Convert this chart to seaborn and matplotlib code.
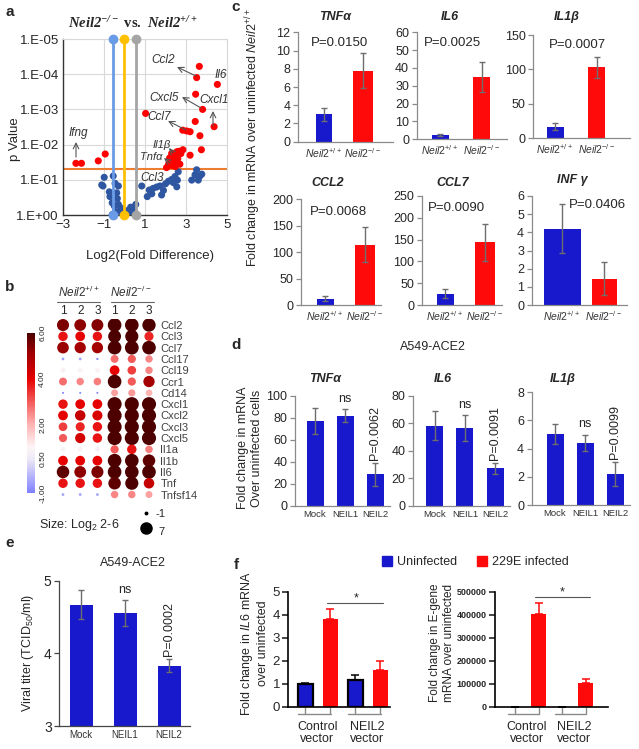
import numpy as np
import pandas as pd
import seaborn as sns
import matplotlib.pyplot as plt
from matplotlib.colors import LinearSegmentedColormap, Normalize
from matplotlib.cm import ScalarMappable
from matplotlib.patches import Patch
from matplotlib.lines import Line2D

# ---------------- data ----------------
# a: volcano (log2 fold difference, p value)
sig_fc = [3.65, 3.52, 4.53, 3.47, 3.81, 1.03, 3.45, 4.37, 2.84, 3.03, 3.20, 3.68,
          3.75, 3.20, 2.85, 2.65, 2.55, 2.75, 2.45, 2.30, 2.60, 2.40, 2.20, 2.55,
          2.15, 2.30, 2.05, 2.70, 2.48, -0.94, -1.28, -2.37, -2.10]
sig_p = [6.0e-5, 1.25e-4, 1.95e-4, 3.7e-4, 1.0e-3, 1.3e-3, 2.2e-3, 3.1e-3, 3.9e-3, 4.1e-3, 4.3e-3, 5.6e-3,
         1.4e-2, 2.0e-2, 1.4e-2, 1.55e-2, 1.6e-2, 1.8e-2, 2.0e-2, 1.8e-2, 2.5e-2, 2.8e-2, 2.4e-2, 3.2e-2,
         3.6e-2, 3.9e-2, 4.5e-2, 3.6e-2, 4.2e-2, 1.85e-2, 2.9e-2, 3.4e-2, 3.4e-2]
ns_fc = [-0.99, -0.55, -1.11, -1.05, -0.46, -0.30, -0.74, -0.38, -0.71, -0.35,
         -0.60, -0.50, -0.30, -0.20, -0.10, 0.00, 0.15, 0.30, 0.45, 0.55,
         0.35, 0.10, -0.25, -0.45, -0.55, -0.35, 0.25, 0.60, -0.60, 0.05,
         0.84, 1.21, 1.40, 1.11, 1.33, 1.57, 1.73, 1.81, 2.14, 2.30,
         2.46, 2.62, 2.58, 2.55, 3.28, 3.44, 3.52, 3.68, 3.77, 3.60,
         2.38, 2.00, 1.90]
ns_p = [0.085, 0.078, 0.14, 0.15, 0.126, 0.15, 0.22, 0.234, 0.30, 0.34,
        0.45, 0.55, 0.50, 0.62, 0.70, 0.78, 0.75, 0.60, 0.62, 0.50,
        0.85, 0.90, 0.85, 0.80, 0.95, 0.92, 0.95, 0.98, 0.98, 0.98,
        0.15, 0.195, 0.175, 0.30, 0.25, 0.16, 0.15, 0.27, 0.11, 0.098,
        0.081, 0.059, 0.102, 0.158, 0.102, 0.072, 0.052, 0.078, 0.069, 0.102,
        0.12, 0.13, 0.20]
cut_fc = [-0.58, 0.0, 0.58]
p_cut = 0.05

# b: dot plot, log2 values per replicate
genes = ['Ccl2', 'Ccl3', 'Ccl7', 'Ccl17', 'Ccl19', 'Ccr1', 'Cd14', 'Cxcl1', 'Cxcl2',
         'Cxcl3', 'Cxcl5', 'Il1a', 'Il1b', 'Il6', 'Tnf', 'Tnfsf14']
wt_vals = [[5.5, 5.3, 5.4], [3.8, 4.0, 3.8], [5.2, 5.0, 5.0], [-0.5, -0.5, -0.8],
           [0.8, 0.9, 0.9], [2.8, 2.5, 2.6], [-1.0, -1.0, -1.0], [3.8, 4.0, 4.0],
           [4.0, 4.5, 4.2], [3.3, 3.6, 3.8], [3.0, 4.3, 3.8], [0.9, 0.9, 0.8],
           [4.0, 4.0, 4.0], [5.8, 5.3, 5.5], [3.8, 3.8, 3.8], [-0.5, -0.5, -0.5]]
ko_vals = [[6.5, 6.5, 6.3], [6.0, 6.2, 3.6], [6.5, 6.6, 6.5], [2.8, 3.0, 2.5],
           [4.0, 3.3, 2.5], [6.5, 3.0, 5.0], [2.2, 2.3, 2.0], [6.8, 6.8, 6.8],
           [6.8, 6.8, 6.8], [6.8, 6.8, 6.8], [6.8, 6.8, 6.8], [3.0, 3.8, 2.6],
           [6.5, 6.5, 5.8], [6.5, 6.5, 6.5], [5.8, 6.2, 4.5], [2.5, 2.5, 2.2]]

# c: mouse qPCR
c_genes = ['TNFα', 'IL6', 'IL1β', 'CCL2', 'CCL7', 'INF γ']
c_wt = [3.0, 2.2, 17, 12, 26, 4.2]
c_wt_err = [0.75, 0.5, 4.5, 5, 10, 1.35]
c_ko = [7.8, 35, 103, 114, 144, 1.45]
c_ko_err = [1.95, 8.5, 15, 33, 42, 0.9]
c_pvals = ['P=0.0150', 'P=0.0025', 'P=0.0007', 'P=0.0068', 'P=0.0090', 'P=0.0406']
c_ymax = [12, 60, 150, 200, 250, 6]
c_ystep = [2, 10, 50, 50, 50, 1]
genotypes = [r'$\mathit{Neil2}^{+/+}$', r'$\mathit{Neil2}^{-/-}$']

# d: A549-ACE2 cytokines
d_groups = ['Mock', 'NEIL1', 'NEIL2']
d_genes = ['TNFα', 'IL6', 'IL1β']
d_vals = [[77, 82, 28.5], [58, 56.5, 27], [5.05, 4.4, 2.2]]
d_errs = [[12, 6, 10.5], [10.5, 9.5, 4], [0.7, 0.6, 0.85]]
d_pvals = ['P=0.0062', 'P=0.0091', 'P=0.0099']
d_ymax = [100, 80, 8]
d_ystep = [20, 20, 2]

# e: viral titer
e_vals = [4.67, 4.55, 3.83]
e_errs = [0.2, 0.18, 0.09]

# f: 229E infection
f_groups = ['Control\nvector', 'NEIL2\nvector']
f_conds = ['Uninfected', '229E infected']
f_il6 = {'Uninfected': [0.98, 1.18], '229E infected': [3.83, 1.58]}
f_il6_err = {'Uninfected': [0.03, 0.22], '229E infected': [0.42, 0.40]}
f_egene = {'Uninfected': [1, 1], '229E infected': [405000, 105000]}
f_egene_err = {'Uninfected': [0, 0], '229E infected': [45000, 15000]}

# ---------------- style ----------------
sns.set_style('ticks')
plt.rcParams['font.family'] = ['Liberation Sans', 'DejaVu Sans']
plt.rcParams['mathtext.fontset'] = 'custom'
plt.rcParams['mathtext.rm'] = 'Liberation Sans'
plt.rcParams['mathtext.it'] = 'Liberation Sans:italic'
plt.rcParams['mathtext.bf'] = 'Liberation Sans:bold'
plt.rcParams['mathtext.bfit'] = 'Liberation Serif:bold:italic'
plt.rcParams['mathtext.sf'] = 'Liberation Serif:bold'

BLUE = '#1818cc'
RED = '#ff0a0a'
ERR = '#6e6e6e'
AXG = '#8a8a8a'

W, H = 639, 749
fig = plt.figure(figsize=(W / 100, H / 100), dpi=100)


def box(l, t, r, b):
    return fig.add_axes([l / W, 1 - b / H, (r - l) / W, (b - t) / H])


def ftext(x, y, s, **kw):
    kw.setdefault('ha', 'center')
    kw.setdefault('va', 'center')
    fig.text(x / W, 1 - y / H, s, **kw)


def excel_axes(ax, ymax, step, fs=9, ymin=0):
    ax.set_ylim(ymin, ymax)
    ax.set_yticks(np.arange(ymin, ymax + step / 2, step))
    sns.despine(ax=ax)
    for s in ['left', 'bottom']:
        ax.spines[s].set_color(AXG)
        ax.spines[s].set_linewidth(0.9)
    ax.tick_params(axis='y', direction='out', length=3.5, width=0.9, color=AXG,
                   labelsize=fs, pad=2)
    ax.tick_params(axis='x', length=0, pad=3)
    ax.set_xlabel('')
    ax.set_ylabel('')


def bars(ax, cats, vals, errs, colors, centers_px, widths_px, l, r):
    df = pd.DataFrame({'cat': cats, 'val': vals})
    sns.barplot(data=df, x='cat', y='val', hue='cat', palette=dict(zip(cats, colors)),
                saturation=1, legend=False, errorbar=None, ax=ax)
    unit = (centers_px[-1] - centers_px[0]) / (len(cats) - 1)
    for i, p in enumerate(ax.patches):
        w = widths_px[i] / unit
        p.set_x(i - w / 2)
        p.set_width(w)
        p.set_edgecolor('none')
    ax.errorbar(np.arange(len(cats)), vals, yerr=errs, fmt='none', ecolor=ERR,
                elinewidth=1.0, capsize=2.5, capthick=1.0, zorder=5)
    ax.set_xlim(-(centers_px[0] - l) / unit, len(cats) - 1 + (r - centers_px[-1]) / unit)


# ---------------- a: volcano ----------------
ftext(10, 12, 'a', fontsize=11, fontweight='bold')
axa = box(63, 39, 227, 215)
axa.set_xlim(-3, 5)
axa.set_ylim(0, -5)
axa.set_xticks([-3, -1, 1, 3, 5])
axa.set_yticks([0, -1, -2, -3, -4, -5])
axa.set_yticklabels(['1.E+00', '1.E-01', '1.E-02', '1.E-03', '1.E-04', '1.E-05'])
axa.grid(True, color='#d9d9d9', lw=0.8)
axa.set_axisbelow(True)
for s in ['top', 'right']:
    axa.spines[s].set_color('#d9d9d9')
for s in ['left', 'bottom']:
    axa.spines[s].set_color('#333333')
    axa.spines[s].set_linewidth(1.0)
axa.tick_params(length=0, labelsize=9.5, pad=3)
for x, c in zip(cut_fc, ['#6a9be6', '#ffc000', '#a5a5a5']):
    axa.plot([x, x], [0, -5], color=c, lw=2, marker='o', ms=6, clip_on=False, zorder=4)
axa.axhline(np.log10(p_cut), color='#ed7d31', lw=1.5, zorder=2)
sns.scatterplot(x=ns_fc, y=np.log10(ns_p), color='#2f56a0', s=26, edgecolor='none',
                ax=axa, zorder=3)
sns.scatterplot(x=sig_fc, y=np.log10(sig_p), color='#ff0000', s=26, edgecolor='none',
                ax=axa, zorder=3)
axa.set_xlabel('Log2(Fold Difference)', fontsize=9.5, labelpad=8)
axa.xaxis.set_label_coords(0.53, -0.2)
axa.set_ylabel('p Value', fontsize=9.5)
axa.yaxis.set_label_coords(-0.255, 0.43)
ftext(133, 23, r'$\mathbfit{Neil2}^{\mathbfit{-/-}}\ \mathsf{vs.}\ \mathbfit{Neil2}^{\mathbfit{+/+}}$',
      fontsize=10.5)

labels_a = [('Ccl2', (163, 60), (177, 67), (196, 76)),
            ('Il6', (221, 75), None, None),
            ('Cxcl5', (164, 98), (182, 97), (201, 108)),
            ('Cxcl1', (214, 100), (213, 111), (213, 126)),
            ('Ccl7', (159, 117), (168, 121), (186, 130)),
            ('Ifng', (78, 133), (76, 142), (76, 157)),
            ('Il1β', (162, 145), (169, 148), (173, 153)),
            ('Tnfα', (151, 157), (164, 158), (170, 163)),
            ('Ccl3', (152, 178), None, None)]
for name, tp, head, tail in labels_a:
    ftext(tp[0], tp[1], name, fontsize=8 if name in ('Il1β', 'Tnfα') else 8.5,
          style='italic', color='#333333')
    if head is not None:
        axa.annotate('', xy=(head[0], H - head[1]), xycoords='figure pixels',
                     xytext=(tail[0], H - tail[1]), textcoords='figure pixels',
                     arrowprops=dict(arrowstyle='->', color='#555555', lw=0.8,
                                     shrinkA=0, shrinkB=0))

# ---------------- b: dot plot ----------------
ftext(10, 287, 'b', fontsize=11, fontweight='bold')
cmap = LinearSegmentedColormap.from_list(
    'bwr_dark', [(0.0, '#8080ff'), (1.5 / 7, '#eeeaf6'), (2.0 / 7, '#fdf5f5'),
                 (3.0 / 7, '#ffb3b3'), (5.0 / 7, '#e60000'), (6.2 / 7, '#990000'),
                 (1.0, '#4d0000')])
norm = Normalize(-1, 6)
rows = []
for i, g in enumerate(genes):
    for j, v in enumerate(wt_vals[i] + ko_vals[i]):
        rows.append({'col': j, 'row': i, 'val': v})
dots = pd.DataFrame(rows)
dots['dot'] = ((2 + (dots['val'] + 1) * 1.55) * 0.72) ** 2
smin, smax = dots['dot'].min(), dots['dot'].max()
axb = box(54.4, 319.4, 157.6, 500.2)
sns.scatterplot(data=dots, x='col', y='row', hue='val', palette=cmap, hue_norm=norm,
                size='dot', sizes=(smin, smax), size_norm=(smin, smax),
                edgecolor='none', legend=False, ax=axb)
axb.set_xlim(-0.5, 5.5)
axb.set_ylim(15.5, -0.5)
sns.despine(ax=axb, left=True, bottom=True)
axb.xaxis.tick_top()
axb.yaxis.tick_right()
axb.set_xticks(range(6))
axb.set_xticklabels(['1', '2', '3', '1', '2', '3'], fontsize=8.5)
axb.set_yticks(range(len(genes)))
axb.set_yticklabels(genes, fontsize=8, color='#404040')
axb.tick_params(length=0, pad=2)
axb.set_xlabel('')
axb.set_ylabel('')
axb.text(0.9, -2.9, genotypes[0], ha='center', va='center', fontsize=8.5, color='#333333')
axb.text(3.95, -2.9, genotypes[1], ha='center', va='center', fontsize=8.5, color='#333333')
axb.plot([-0.37, 2.14], [-2.05, -2.05], color='#666666', lw=0.8, clip_on=False)
axb.plot([2.78, 5.29], [-2.05, -2.05], color='#666666', lw=0.8, clip_on=False)

cax = box(27, 333, 35, 493)
cb = fig.colorbar(ScalarMappable(norm=norm, cmap=cmap), cax=cax, ticks=[-1, 0.5, 2, 4, 6])
cb.ax.set_yticklabels(['-1.00', '0.50', '2.00', '4.00', '6.00'], rotation=90,
                      va='center', fontsize=6)
cb.ax.tick_params(length=0, pad=3)
cb.outline.set_visible(False)

ftext(39, 525, 'Size: Log$_2$ 2-6', fontsize=9, ha='left')
fig.add_artist(Line2D([146 / W], [1 - 513 / H], marker='o', ms=1.8, color='black',
                      transform=fig.transFigure))
fig.add_artist(Line2D([146 / W], [1 - 528 / H], marker='o', ms=8, color='black',
                      transform=fig.transFigure))
ftext(156, 514, '-1', fontsize=8, ha='left')
ftext(158, 532, '7', fontsize=8, ha='left')

# ---------------- c: Neil2 mice ----------------
ftext(236, 7, 'c', fontsize=11, fontweight='bold')
c_boxes = [(298, 32.3, 393, 141.7), (416.7, 32.3, 507, 139.3), (533.3, 35, 630, 138.3),
           (300.7, 199.3, 381, 305), (421.7, 196, 502, 305), (531.7, 196, 627, 305)]
c_centers = [(324, 363), (440, 481.7), (555, 596.7), (325, 365), (445, 485), (562, 604)]
c_widths = [(16, 20), (17, 17), (17, 17), (17, 20), (17, 20), (37, 25)]
c_titles = [(335, 17), (450, 17), (567, 17), (328, 183), (453, 183), (572, 180)]
c_ptext = [(340, 43), (452, 43), (577, 45), (338, 212), (456, 208), (597, 205)]
for k in range(6):
    l, t, r, b = c_boxes[k]
    ax = box(l, t, r, b)
    bars(ax, genotypes, [c_wt[k], c_ko[k]], [c_wt_err[k], c_ko_err[k]], [BLUE, RED],
         c_centers[k], c_widths[k], l, r)
    excel_axes(ax, c_ymax[k], c_ystep[k], fs=9)
    ax.set_xticks([0, 1])
    ax.set_xticklabels(genotypes, fontsize=7.5, color='#333333')
    ftext(*c_titles[k], c_genes[k], fontsize=9, fontweight='bold', style='italic')
    ftext(*c_ptext[k], c_pvals[k], fontsize=9.5)
ftext(253, 138, r'Fold change in mRNA over uninfected $\mathit{Neil2}^{+/+}$',
      fontsize=9, rotation=90)

# ---------------- d: A549-ACE2 cytokines ----------------
ftext(236, 345, 'd', fontsize=11, fontweight='bold')
ftext(433, 347, 'A549-ACE2', fontsize=9)
d_boxes = [(295, 395.7, 390, 505.7), (413.3, 395.7, 510, 505.5), (531.7, 392.3, 630, 505)]
d_centers = [(315, 345, 375), (435, 465, 495), (555, 585, 615)]
d_titles = [(325, 379), (443, 379), (563, 379)]
for k in range(3):
    l, t, r, b = d_boxes[k]
    ax = box(l, t, r, b)
    bars(ax, d_groups, d_vals[k], d_errs[k], [BLUE] * 3, d_centers[k], (17, 17, 17), l, r)
    excel_axes(ax, d_ymax[k], d_ystep[k], fs=9)
    ax.set_xticks([0, 1, 2])
    ax.set_xticklabels(d_groups, fontsize=6.8, color='#333333')
    ftext(*d_titles[k], d_genes[k], fontsize=9, fontweight='bold', style='italic')
    ax.text(1, d_vals[k][1] + d_errs[k][1] + d_ymax[k] * 0.04, 'ns', ha='center',
            va='bottom', fontsize=9)
    ax.text(2, d_vals[k][2] + d_errs[k][2] + d_ymax[k] * 0.03, d_pvals[k], ha='center',
            va='bottom', rotation=90, fontsize=9)
ftext(250, 448, 'Fold change in mRNA\nOver uninfected cells', fontsize=9, rotation=90,
      linespacing=1.15)

# ---------------- e: viral titer ----------------
ftext(10, 543, 'e', fontsize=11, fontweight='bold')
ftext(133, 563, 'A549-ACE2', fontsize=9)
axe = box(59.3, 580.7, 190, 726)
bars(axe, d_groups, e_vals, e_errs, [BLUE] * 3, (81, 126, 169), (23, 23, 23), 59.3, 190)
excel_axes(axe, 5, 1, fs=10, ymin=3)
for s in ['left', 'bottom']:
    axe.spines[s].set_color('#444444')
axe.tick_params(axis='y', color='#444444')
axe.set_xticks([0, 1, 2])
axe.set_xticklabels(d_groups, fontsize=7, color='#333333')
axe.text(1, e_vals[1] + e_errs[1] + 0.06, 'ns', ha='center', va='bottom', fontsize=9)
axe.text(2, e_vals[2] + e_errs[2] + 0.05, 'P=0.0002', ha='center', va='bottom',
         rotation=90, fontsize=9)
ftext(28, 653, 'Viral titer (TCID$_{50}$/ml)', fontsize=9, rotation=90)

# ---------------- f: 229E ----------------
ftext(236, 565, 'f', fontsize=11, fontweight='bold')
fig.legend(handles=[Patch(color=BLUE), Patch(color=RED)], labels=f_conds, loc='center',
           bbox_to_anchor=(475 / W, 1 - 562 / H), ncol=2, frameon=False, fontsize=9,
           handlelength=0.8, handleheight=0.8, handletextpad=0.4, columnspacing=1.6)


def graphpad(ax, vals, errs, l, r, first_px, unit_px, ymax, step, fs, bold, edge):
    df = pd.DataFrame([{'group': g, 'cond': c, 'val': vals[c][i]}
                       for c in f_conds for i, g in enumerate(f_groups)])
    sns.barplot(data=df, x='group', y='val', hue='cond', hue_order=f_conds,
                palette={f_conds[0]: BLUE, f_conds[1]: RED}, width=1.0, gap=0.4,
                saturation=1, legend=False, errorbar=None, ax=ax)
    for p in ax.patches:
        blue = p.get_facecolor()[2] > 0.5
        p.set_edgecolor('black' if (blue and edge) else 'none')
        p.set_linewidth(1.6 if (blue and edge) else 0)
    for ci, c in enumerate(f_conds):
        xs = np.arange(2) + (-0.25 if ci == 0 else 0.25)
        ax.errorbar(xs, vals[c], yerr=[[0, 0], errs[c]], fmt='none',
                    ecolor='black' if ci == 0 else RED, elinewidth=1.1, capsize=3,
                    capthick=1.1, zorder=1)
    left = -0.25 - (first_px - l) / unit_px
    ax.set_xlim(left, left + (r - l) / unit_px)
    ax.set_ylim(0, ymax)
    ax.set_yticks(np.arange(0, ymax + step / 2, step))
    sns.despine(ax=ax)
    for s in ['left', 'bottom']:
        ax.spines[s].set_color('black')
        ax.spines[s].set_linewidth(1.2)
    ax.tick_params(axis='y', direction='out', length=4, width=1.2, labelsize=fs, pad=2)
    if bold:
        for lab in ax.get_yticklabels():
            lab.set_fontweight('bold')
    ax.set_xticks([-0.25, 0.25, 0.75, 1.25])
    ax.set_xticklabels([])
    ax.tick_params(axis='x', direction='out', length=5, width=1.0, color=AXG)
    tr = ax.get_xaxis_transform()
    for g in range(2):
        ax.plot([g - 0.4, g + 0.27], [-0.063, -0.063], color=AXG, lw=1.0,
                transform=tr, clip_on=False)
        ax.text(g, -0.23, f_groups[g], ha='center', va='center', fontsize=9,
                transform=tr, linespacing=1.0)
    ax.set_xlabel('')
    ax.set_ylabel('')


axf1 = box(288.3, 591.7, 390, 706.7)
graphpad(axf1, f_il6, f_il6_err, 288.3, 390, 305, 50, 5, 1, 9.5, False, True)
axf1.plot([0.19, 1.31], [4.52, 4.52], color='#555555', lw=0.8)
axf1.text(0.77, 4.45, '*', ha='center', va='bottom', fontsize=9)
ftext(254, 643, 'Fold change in $\\mathit{IL6}$ mRNA\nover uninfected', fontsize=9,
      rotation=90, linespacing=1.15)

axf2 = box(495, 591.7, 608, 706.7)
graphpad(axf2, f_egene, f_egene_err, 495, 608, 515, 47, 500000, 100000, 6.5, True, False)
axf2.plot([0.176, 1.35], [478000, 478000], color='#555555', lw=0.8)
axf2.text(0.76, 470000, '*', ha='center', va='bottom', fontsize=9)
ftext(442, 643, 'Fold change in E-gene\nmRNA over uninfected', fontsize=8.5,
      rotation=90, linespacing=1.15)

fig.savefig('out.png', dpi=100)
